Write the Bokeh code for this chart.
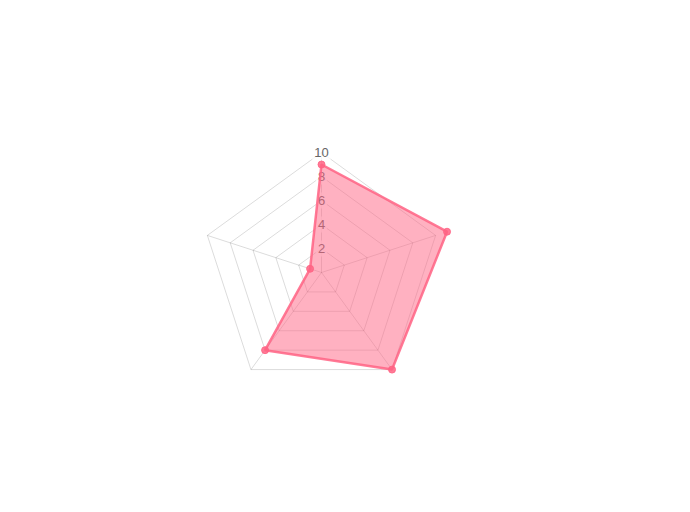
import numpy as np
from bokeh.plotting import figure
from bokeh.models import Range1d, ColumnDataSource
from bokeh.core.properties import value
from bokeh.embed import file_html
from bokeh.resources import INLINE

# data
categories = ["A", "B", "C", "D", "E"]
values = [9, 11, 10, 8, 1]
tick_values = [2, 4, 6, 8, 10]
tick_labels = ["2", "4", "6", "8", "10"]
scale_max = 10

W, H = 690, 512
px_per_unit = 12.0
cx, cy = 321, 272  # centre in pixels from top-left

p = figure(width=W, height=H, output_backend="svg", toolbar_location=None,
           x_range=Range1d(-cx / px_per_unit, (W - cx) / px_per_unit),
           y_range=Range1d(-(H - cy) / px_per_unit, cy / px_per_unit),
           min_border=0, outline_line_color=None, background_fill_color="white",
           border_fill_color="white")
p.axis.visible = False
p.grid.visible = False

n = len(categories)
angles = np.pi / 2 - 2 * np.pi * np.arange(n) / n

# grid pentagons
gx, gy = [], []
for t in tick_values:
    gx.append(list(t * np.cos(angles)) + [t * np.cos(angles[0])])
    gy.append(list(t * np.sin(angles)) + [t * np.sin(angles[0])])
p.multi_line(gx, gy, line_color="rgba(0,0,0,0.14)", line_width=1)

# spokes
sx = [[0, scale_max * np.cos(a)] for a in angles]
sy = [[0, scale_max * np.sin(a)] for a in angles]
p.multi_line(sx, sy, line_color="rgba(0,0,0,0.14)", line_width=1)

# tick labels with backdrop
lab = ColumnDataSource(dict(
    x=[0.0] * len(tick_values),
    y=[float(t) for t in tick_values],
    text=tick_labels,
    w=[len(s) * 7.2 + 4 for s in tick_labels],
))
p.rect(x="x", y="y", width="w", height=16, width_units="screen", height_units="screen",
       source=lab, fill_color="rgba(255,255,255,0.75)", line_color=None)
p.text(x="x", y="y", text="text", source=lab, text_align="center", text_baseline="middle",
       text_font=value("Liberation Sans"), text_font_size="13px", text_color="#666666")

# data
vx = list(np.array(values) * np.cos(angles))
vy = list(np.array(values) * np.sin(angles))
p.patch(vx, vy, fill_color="rgba(255,99,132,0.5)", line_color="rgba(255,99,132,0.85)", line_width=2.5)
p.scatter(vx, vy, size=7, fill_color="rgba(255,99,132,0.85)", line_color="rgba(255,99,132,0.85)", line_width=1)

open("out.html", "w").write(file_html(p, INLINE))
